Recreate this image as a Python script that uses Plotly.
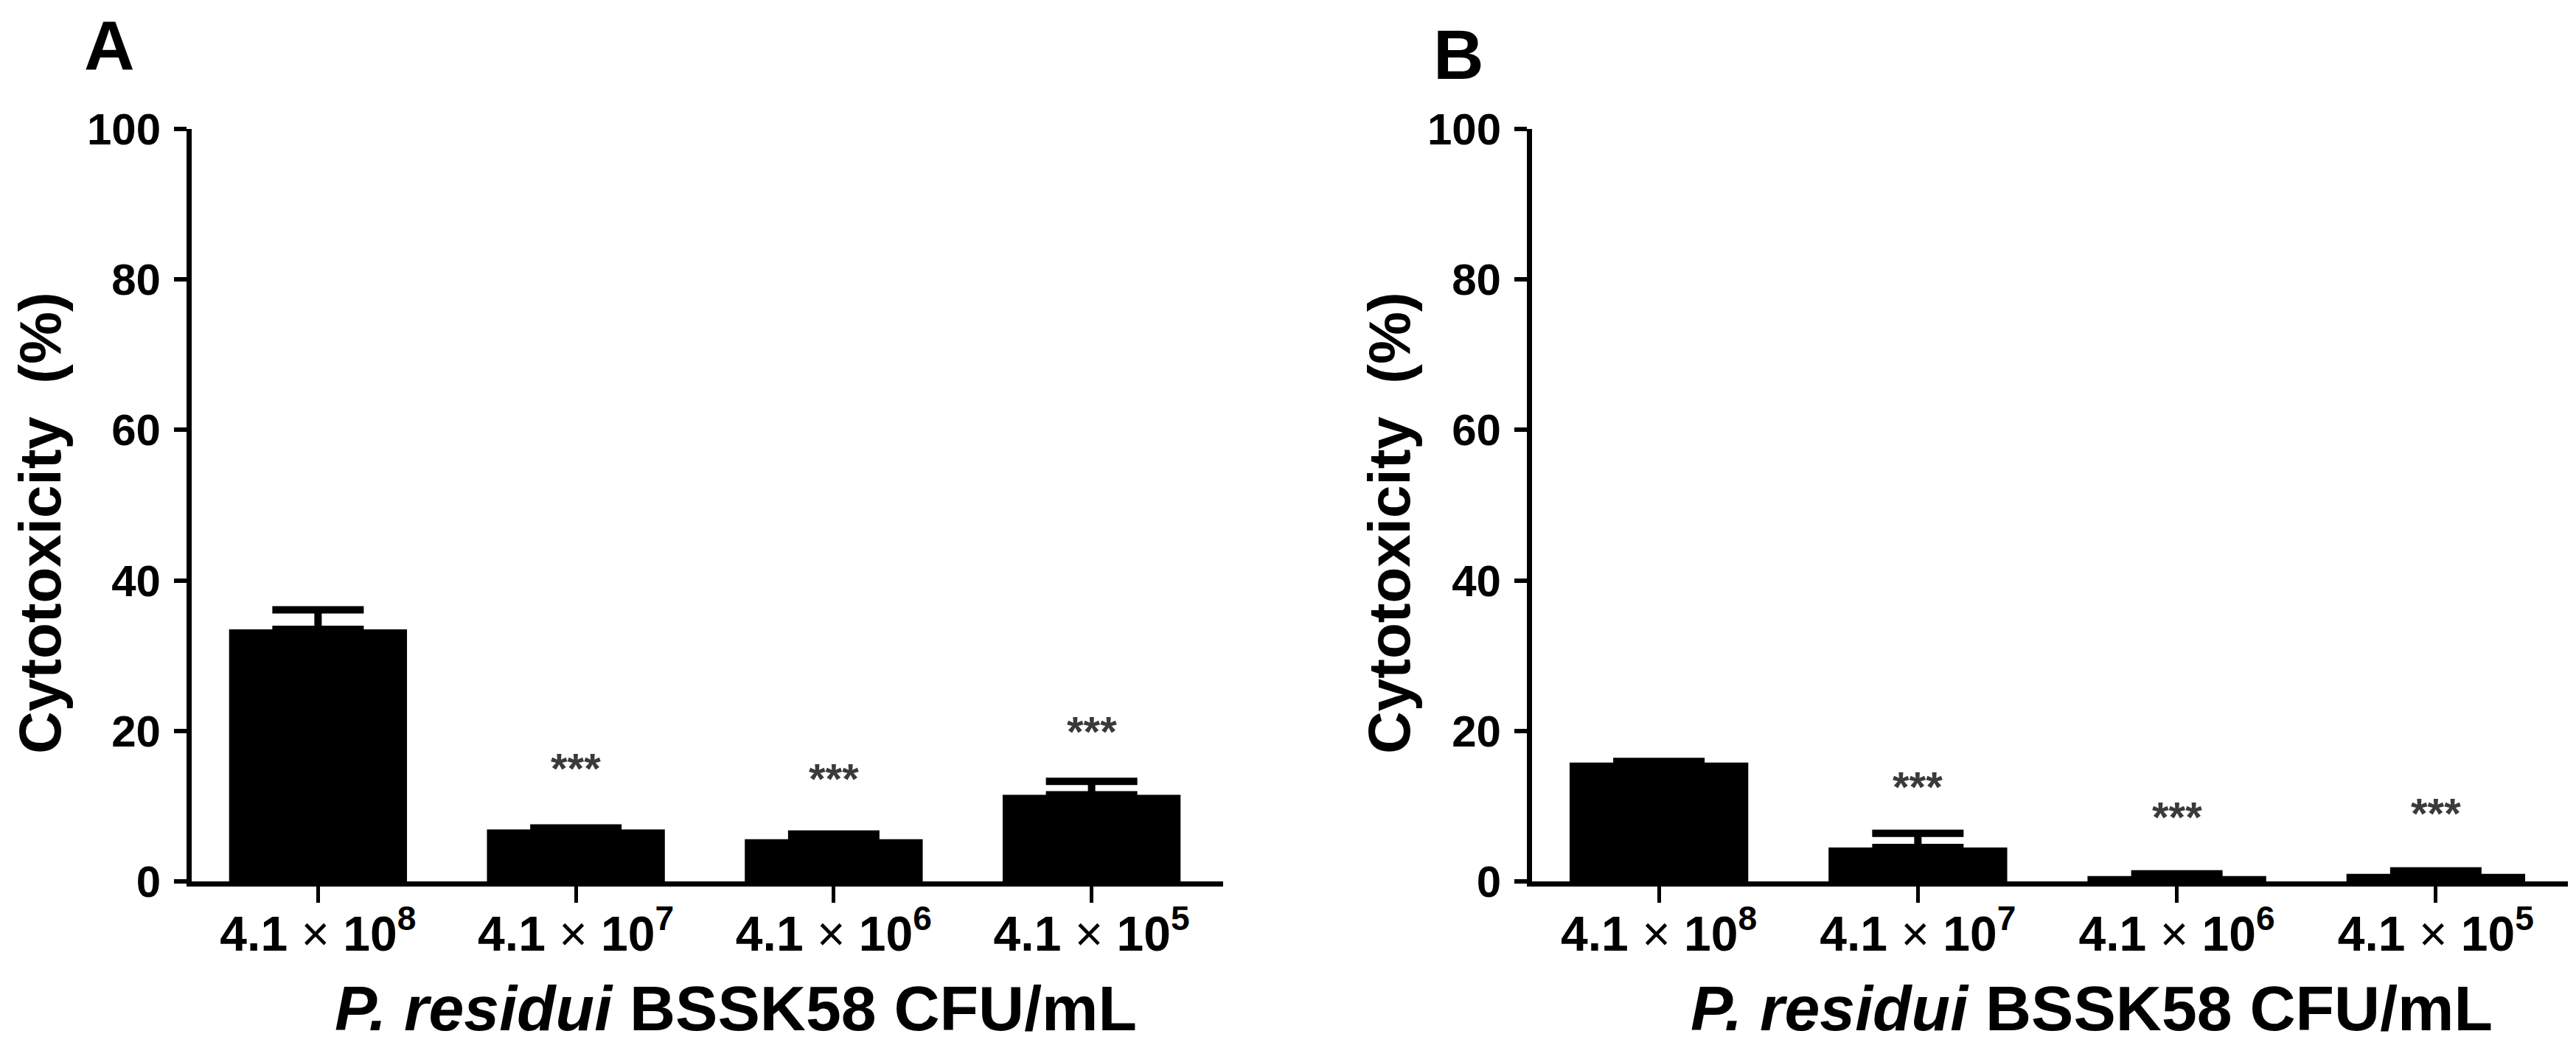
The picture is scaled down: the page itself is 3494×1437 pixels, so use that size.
import plotly.graph_objects as go

W, H = 3494, 1437
FONT = "Liberation Sans, Arial, sans-serif"

# data
doses = ["4.1", "4.1", "4.1", "4.1"]
exponents = ["8", "7", "6", "5"]
cyto_a = [33.5, 6.9, 5.6, 11.5]
err_a = [2.6, 0.2, 0.7, 1.8]
cyto_b = [15.8, 4.5, 0.7, 1.0]
err_b = [0.15, 1.9, 0.3, 0.4]
stars_a = [None, 15.0, 13.7, 19.9]
stars_b = [None, 12.6, 8.6, 9.1]

ticktext = [f"<b>{d}</b> × <b>10<sup>{e}</sup></b>" for d, e in zip(doses, exponents)]
xpos = [0, 1, 2, 3]


def px_x(p):
    return p / W


def px_y(p):
    return 1 - p / H


fig = go.Figure()

for vals, errs, xa, ya in [(cyto_a, err_a, "x", "y"), (cyto_b, err_b, "x2", "y2")]:
    fig.add_trace(go.Bar(
        x=xpos, y=vals, width=0.69,
        marker=dict(color="black", line=dict(width=0)),
        error_y=dict(type="data", array=errs, arrayminus=[0] * 4, symmetric=False,
                     color="black", thickness=10, width=62),
        xaxis=xa, yaxis=ya,
    ))

xcommon = dict(
    range=[-0.49, 3.51], showline=True, linewidth=7, linecolor="black",
    ticks="outside", ticklen=22, tickwidth=5, tickcolor="black",
    tickvals=xpos, ticktext=ticktext, showgrid=False, zeroline=False,
    automargin=False, ticklabelstandoff=-14,
    tickfont=dict(family=FONT, size=66, color="black"),
)
ycommon = dict(
    range=[0, 100], dtick=20, showline=True, linewidth=7, linecolor="black",
    ticks="outside", ticklen=17, tickwidth=6, tickcolor="black",
    showgrid=False, zeroline=False, ticklabelstandoff=6, automargin=False,
    tickfont=dict(family=FONT, size=60, color="black", weight="bold"),
)

fig.update_layout(
    template="none",
    width=W, height=H,
    margin=dict(l=0, r=0, t=0, b=0, autoexpand=False),
    paper_bgcolor="white", plot_bgcolor="white",
    showlegend=False,
    xaxis=dict(domain=[px_x(252), px_x(1651)], anchor="y", **xcommon),
    yaxis=dict(domain=[px_y(1188), px_y(167)], anchor="x", **ycommon),
    xaxis2=dict(domain=[px_x(2070), px_x(3475)], anchor="y2", **xcommon),
    yaxis2=dict(domain=[px_y(1188), px_y(167)], anchor="x2", **ycommon),
)

ann = []
# panel letters
for letter, lx, ly in [("A", 140, 54), ("B", 1971, 66)]:
    ann.append(dict(text=letter, x=px_x(lx), y=px_y(ly), xref="paper", yref="paper",
                    xanchor="center", yanchor="middle", showarrow=False,
                    font=dict(family=FONT, size=95, weight="bold", color="black")))

# axis titles
for yx, xx in [(46, 990), (1876, 2829)]:
    ann.append(dict(text="Cytotoxicity  (%)", x=px_x(yx), y=px_y(702), xref="paper", yref="paper",
                    xanchor="center", yanchor="middle", textangle=-90, showarrow=False,
                    font=dict(family=FONT, size=80, weight="bold", color="black")))
    ann.append(dict(text="<i>P. residui</i> BSSK58 CFU/mL", x=px_x(xx), y=px_y(1360),
                    xref="paper", yref="paper", xanchor="center", yanchor="middle",
                    showarrow=False,
                    font=dict(family=FONT, size=86, weight="bold", color="black")))

# significance marks
for stars, xa, ya in [(stars_a, "x", "y"), (stars_b, "x2", "y2")]:
    for i, s in enumerate(stars):
        if s is None:
            continue
        ann.append(dict(text="***", x=xpos[i], y=s, xref=xa, yref=ya, showarrow=False,
                        xanchor="center", yanchor="middle",
                        font=dict(family=FONT, size=58, weight="bold", color="#3a3a3a")))

fig.update_layout(annotations=ann)

fig.write_html("out.html")
